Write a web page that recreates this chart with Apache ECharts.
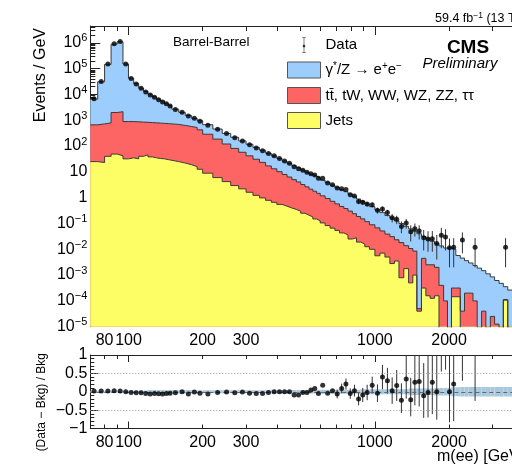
<!DOCTYPE html>
<html><head><meta charset="utf-8">
<script src="https://cdn.jsdelivr.net/npm/echarts@6/dist/echarts.min.js"></script>
<style>html,body{margin:0;padding:0;background:#fff}#c{width:512px;height:468px}</style>
</head><body><div id="c"></div>
<script>
// ---- bin edges (GeV) ----
const binEdges = [70,75,80,85,90,95,100,105,110,115,120,125,130,135,140,145,150,160,170,180,190,200,
 220,240,260,280,300,320,340,360,380,400,420,440,460,480,500,520,540,560,580,600,
 628,658,688,718,748,778,810,842,875,910,950,1000,1048,1098,1150,1200,1252,1310,1370,1425,1480,
 1545,1610,1675,1745,1820,1900,1970,2045,2130,2220,2310,2400,2500,2600,2710,2820,2940,3060,3190,3320,3460,3600];
// ---- backgrounds, Events / GeV ----
const jetsVals = [25,23,40,49,42,32,35,32,40,46, 38,35,33,32,30,28,25,22,19,16,
 12.6,8.9,6.0,4.2,2.95,2.2,1.62,1.23,0.98,0.79, 0.66,0.55,0.47,0.40,0.35,0.30,0.25,0.21,0.18,0.15,
 0.126,0.105,0.083,0.066,0.054,0.043,0.036,0.025,0.028,0.019, 0.016,0.0126,0.010,0.0056,0.0071,0.0050,0.0028,0.0035,0.00079,0.00178,
 0.0005,0.001,0.00004,0.000316,0.000158,0.000126,0.000158,0,0,0, 0.000145,0.000145,0,0,0,0,0,0,0,0, 0,0,0.000107,0];
const topVals = [640,700,750,1950,2100,860,855,840,810,790, 775,760,743,727,711,696,667,609,556,509,
 414,279,180,116,78.3,55.3,40.1,29.7,22.4,16.2, 12.5,9.65,7.47,5.91,4.66,3.77,2.99,2.42,1.96,1.63,
 1.35,1.07,0.850,0.658,0.521,0.414,0.344,0.277,0.212,0.167, 0.135,0.105,0.0791,0.062,0.0442,0.0339,0.0281,0.0199,0.0174,0.0120,
 0.0102,0.00751,0.00001,0.00415,0.00235,0.00238,0.00184,0.0004,0.0001,0, 0.00017,0.00017,0.00004,0.0002,0.0002,0.0001,0,0.00004,0,0.000025,
 0.0000126,0,0.000005,0];
const dyVals = [5900,30200,147000,889000,1094000,150500,41800,25400,16900,12350, 9420,7330,5830,4740,3830,2990,2000,1410,974,677,
 528,388,271,189,138,101,75.8,58.2,45.8,35.5, 28.5,22.9,18.4,15.1,12.4,10.4,8.51,7.14,5.99,5.14,
 4.41,3.61,2.96,2.37,1.94,1.58,1.32,1.08,0.882,0.705, 0.573,0.458,0.358,0.271,0.212,0.165,0.131,0.103,0.0818,0.0638,
 0.0510,0.0416,0.0398,0.0271,0.0232,0.0179,0.0146,0.0131,0.0111,0.0115, 0.0095,0.00543,0.00453,0.00343,0.00275,0.00224,0.00186,0.00144,0.00112,0.000826,
 0.000604,0.000479,0.000243,0.000263];
// ---- data, Events / GeV ----
const dataVals = [6750,31500,151000,918000,1120000,151000,41800,25500,17300,12500, 9620,7730,6240,5160,4350,3570,2610,2040,1460,1190,
 916,635,448,306,212,157,113,84.7,65.8,51.4, 41.7,33.1,26.3,21.4,15.8,13.2,11.5,9.57,8.53,7.54,
 5.60,5.65,3.73,3.18,2.36,2.22,2.06,1.31,1.16,0.713, 0.659,0.564,0.527,0.325,0.368,0.265,0.167,0.147,0.0769,0.105,
 0.0481,0.0631,0.0509,0.0282,0.0252,0.0257,0.0166,0.035,0.030,0.0115, 0.0119,null,0.0229,null,null,0.012,null,null,null,null,
 null,null,0.012,null];
const dataErrBins = [49,50,51,52,53,54,55,56,57,58,59,60,61,62,63,64,65,66,67,68,69,70,72,75,82];
const dataErrLow  = [0.56,0.52,0.45,0.42,0.24,0.28,0.19,0.11,0.094,0.042,0.063,0.020,0.031,0.024,0.009,0.008,0.008,0.004,0.011,0.009,0.002,0.002,0.007,0.002,0.002];
const dataErrHigh = [0.86,0.80,0.68,0.63,0.41,0.46,0.34,0.23,0.20,0.12,0.15,0.085,0.10,0.085,0.056,0.05,0.051,0.036,0.068,0.06,0.026,0.027,0.045,0.027,0.027];
// ---- ratio (Data - Bkg) / Bkg ----
const ratioVals = [0.02,0.02,0.02,0.03,0.02,0.0,-0.02,-0.03,-0.03,-0.05, -0.06,-0.05,-0.055,-0.06,-0.05,-0.04,-0.03,0.0,-0.06,-0.01,
 -0.04,-0.06,-0.02,-0.01,-0.03,-0.01,-0.04,-0.05,-0.05,-0.02, 0,0,0,0,-0.09,-0.09,-0.02,-0.02,0.05,0.09,
 -0.05,0.18,-0.04,0.03,-0.06,0.09,0.21,-0.05,0.03,-0.2, -0.09,-0.02,0.18,-0.04,0.4,0.3,0.03,0.17,-0.23,0.35,
 -0.22,0.26,0.28,-0.11,-0.02,0.26,0.0,1.6,1.7,0.0, 0.21,null,4.0,null,null,4.1,null,null,null,null, null,null,33,null];
const ratioErrBins = [44,45,46,47,48,49,50,51,52,53,54,55,56,57,58,59,60,61,62,63,64,65,66,67,68,69,70,72,75,82];
const ratioErrLow  = [-0.18,-0.04,0.06,-0.19,-0.13,-0.37,-0.28,-0.23,-0.05,-0.28,0.07,-0.05,-0.33,-0.25,-0.58,-0.19,-0.67,-0.37,-0.40,-0.71,-0.70,-0.61,-0.76,0.55,0.6,-0.83,-0.8,0.3,-0.25,4.7];
const ratioErrHigh = [0.06,0.22,0.36,0.09,0.19,-0.03,0.10,0.19,0.41,0.20,0.73,0.65,0.39,0.59,0.23,1.0,0.38,1.02,1.14,0.78,0.98,1.5,1.17,3.3,3.4,2.3,2.9,9,10,80];
const bandHalf = [0.03,0.03,0.03,0.03,0.03,0.03,0.035,0.035,0.035,0.035,
 0.045,0.045,0.045,0.045,0.045,0.045,0.045,0.045,0.045,0.045, 0.04,0.04,0.04,0.04,0.04,0.04,0.04,0.04,0.04,0.04,
 0.045,0.045,0.045,0.045,0.045,0.045,0.045,0.045,0.045,0.045, 0.055,0.055,0.055,0.055,0.055,0.055,0.055,0.055,0.055,0.055,
 0.07,0.07,0.07,0.07,0.07,0.07,0.07,0.07,0.07,0.07, 0.09,0.09,0.09,0.09,0.09,0.09,0.1,0.1,0.1,0.1,
 0.12,0.12,0.13,0.13,0.13,0.13,0.13,0.13,0.13,0.13,0.13,0.13,0.13,0.13];
// ---- axis ticks / labels ----
const xTickLabels = [80,100,200,300,1000,2000];
const xMinorTicks = [80,90,200,300,400,500,600,700,800,900,2000,3000];
const xMajorTicks = [100,1000];
const yDecades = [1e-5,1e-4,1e-3,1e-2,1e-1,1,10,100,1e3,1e4,1e5,1e6];
const ratioTicks = [-1,-0.5,0,0.5,1];
const ratioMinorTicks = [-0.9,-0.8,-0.7,-0.6,-0.4,-0.3,-0.2,-0.1,0.1,0.2,0.3,0.4,0.6,0.7,0.8,0.9];

const FONT = "'Liberation Sans', Arial, Helvetica, sans-serif";
const BLUE = '#9dcdfd', RED = '#fd6464', YELLOW = '#fdfd66', BAND = '#aac8dd';
const DYNAME = 'γ*/Z → e+e−', TOPNAME = 'tt̄, tW, WW, WZ, ZZ, ττ';
const XMIN = 70, XMAX = 3600, YMIN = 1e-5, YMAX = 4.5e6;
const nb = binEdges.length - 1;

const yMinorTicks = [];
for (let d = -5; d <= 6; d++) for (let k = 2; k <= 9; k++) { const v = k * Math.pow(10, d); if (v <= YMAX) yMinorTicks.push(v); }

const cumRed = jetsVals.map((j, i) => j + topVals[i]);
const cumTot = cumRed.map((r, i) => r + dyVals[i]);
const center = i => (binEdges[i] + binEdges[i + 1]) / 2;
function stepData(vals) {
  const out = [];
  for (let i = 0; i < nb; i++) out.push([binEdges[i], vals[i] > 0 ? vals[i] : 1e-9]);
  out.push([binEdges[nb], vals[nb - 1] > 0 ? vals[nb - 1] : 1e-9]);
  return out;
}
const dataPts = []; dataVals.forEach((v, i) => { if (v != null) dataPts.push([center(i), v]); });
const ratioPts = []; ratioVals.forEach((v, i) => { if (v != null) ratioPts.push([center(i), v]); });
const dataErr = dataErrBins.map((b, k) => [center(b), dataErrLow[k], dataErrHigh[k]]);
const ratioErr = ratioErrBins.map((b, k) => [center(b), ratioErrLow[k], ratioErrHigh[k]]);
const bandData = bandHalf.map((w, i) => [binEdges[i], binEdges[i + 1], -w, w]);

const AX = '#222';
function xAx(grid, pos, ticks, len, labels, line) {
  return {
    type: 'log', logBase: 10, gridIndex: grid, position: pos, min: XMIN, max: XMAX,
    axisLine: { show: line, onZero: false, lineStyle: { color: AX, width: 1 } },
    axisTick: { show: true, inside: true, length: len, customValues: ticks, lineStyle: { color: AX, width: 1 } },
    axisLabel: labels ? { show: true, customValues: labels, margin: 6, fontSize: 16, fontFamily: FONT, color: '#000', formatter: v => String(Math.round(v)) } : { show: false },
    splitLine: { show: false }, minorTick: { show: false }
  };
}
const supRich = { b: { fontSize: 16, fontFamily: FONT, color: '#000', lineHeight: 16 }, s: { fontSize: 11, fontFamily: FONT, color: '#000', padding: [0, 0, 9, 0], lineHeight: 16 } };
function yLab(v) {
  const e = Math.round(Math.log10(v));
  if (e === 0) return '{b|1}';
  if (e === 1) return '{b|10}';
  return '{b|10}{s|' + (e < 0 ? '−' + (-e) : e) + '}';
}
function vline(params, api) {
  const p1 = api.coord([api.value(0), api.value(1)]);
  const p2 = api.coord([api.value(0), api.value(2)]);
  return { type: 'line', shape: { x1: p1[0], y1: p1[1], x2: p2[0], y2: p2[1] }, style: { stroke: '#333', lineWidth: 1 } };
}

const G0 = { left: 90.3, top: 26, width: 424.4, height: 300.7 };
const G1 = { left: 90.3, top: 355, width: 424.4, height: 73.5 };

const chart = echarts.init(document.getElementById('c'), null, { renderer: 'canvas' });
chart.setOption({
  animation: false,
  backgroundColor: '#fff',
  grid: [G0, G1],
  xAxis: [
    xAx(0, 'bottom', xMinorTicks, 5, xTickLabels, true),
    xAx(0, 'bottom', xMajorTicks, 9, null, false),
    xAx(0, 'top', xMinorTicks, 5, null, true),
    xAx(0, 'top', xMajorTicks, 9, null, false),
    xAx(1, 'bottom', xMinorTicks, 4, xTickLabels, true),
    xAx(1, 'bottom', xMajorTicks, 7, null, false),
    xAx(1, 'top', xMinorTicks, 4, null, true),
    xAx(1, 'top', xMajorTicks, 7, null, false)
  ],
  yAxis: [
    { type: 'log', logBase: 10, gridIndex: 0, position: 'left', min: YMIN, max: YMAX,
      axisLine: { show: true, onZero: false, lineStyle: { color: AX, width: 1 } },
      axisTick: { show: true, inside: true, length: 5, customValues: yMinorTicks, lineStyle: { color: AX } },
      axisLabel: { show: true, customValues: yDecades, margin: 3, formatter: yLab, rich: supRich, lineHeight: 16 },
      splitLine: { show: false } },
    { type: 'log', logBase: 10, gridIndex: 0, position: 'left', min: YMIN, max: YMAX,
      axisLine: { show: false, onZero: false },
      axisTick: { show: true, inside: true, length: 10, customValues: yDecades, lineStyle: { color: AX } },
      axisLabel: { show: false }, splitLine: { show: false } },
    { type: 'value', gridIndex: 1, position: 'left', min: -1, max: 1,
      axisLine: { show: true, onZero: false, lineStyle: { color: AX, width: 1 } },
      axisTick: { show: true, inside: true, length: 8, customValues: ratioTicks, lineStyle: { color: AX } },
      axisLabel: { show: true, customValues: ratioTicks, margin: 3, fontSize: 16, fontFamily: FONT, color: '#000',
        formatter: v => (v < 0 ? '−' : '') + Math.abs(v) },
      splitLine: { show: false } },
    { type: 'value', gridIndex: 1, position: 'left', min: -1, max: 1,
      axisLine: { show: false, onZero: false },
      axisTick: { show: true, inside: true, length: 4, customValues: ratioMinorTicks, lineStyle: { color: AX } },
      axisLabel: { show: false }, splitLine: { show: false } }
  ],
  legend: {
    left: 287, top: 37, padding: 0, orient: 'vertical', itemWidth: 33, itemHeight: 16, itemGap: 8,
    selectedMode: false,
    textStyle: { fontSize: 15, fontFamily: FONT, color: '#000', lineHeight: 16,
      rich: { t: { fontSize: 15, fontFamily: FONT, color: '#000', lineHeight: 16 },
              s: { fontSize: 10, fontFamily: FONT, color: '#000', lineHeight: 16, padding: [0, 0, 8, 0] } } },
    formatter: n => n === DYNAME ? '{t|γ}{s|*}{t|/Z → e}{s|+}{t|e}{s|−}' : '{t|' + n + '}',
    data: [
      { name: 'Data', icon: 'path://M2,0L6,0L6,0.6L4.3,0.6L4.3,7.4A1.8,1.8 0 0 1 4.3,10.6L4.3,15.4L6,15.4L6,16L2,16L2,15.4L3.7,15.4L3.7,10.6A1.8,1.8 0 0 1 3.7,7.4L3.7,0.6L2,0.6Z',
        itemStyle: { color: '#000', borderWidth: 0 } },
      { name: DYNAME, icon: 'rect', itemStyle: { color: BLUE, borderColor: '#555', borderWidth: 1 } },
      { name: TOPNAME, icon: 'rect', itemStyle: { color: RED, borderColor: '#555', borderWidth: 1 } },
      { name: 'Jets', icon: 'rect', itemStyle: { color: YELLOW, borderColor: '#555', borderWidth: 1 } }
    ]
  },
  graphic: [
    { type: 'text', x: 41, y: 28, rotation: Math.PI / 2, style: { text: 'Events / GeV', fontSize: 16, fontFamily: FONT, fill: '#000', align: 'right', verticalAlign: 'middle' } },
    { type: 'text', x: 42, y: 353, rotation: Math.PI / 2, style: { text: '(Data − Bkg) / Bkg', fontSize: 12, fontFamily: FONT, fill: '#000', align: 'right', verticalAlign: 'middle' } },
    { type: 'text', x: 173, y: 42, style: { text: 'Barrel-Barrel', fontSize: 13.5, fontFamily: FONT, fill: '#000', align: 'left', verticalAlign: 'middle' } },
    { type: 'text', x: 435, y: 19, style: { text: '{a|59.4 fb}{s|−1}{a| (13 TeV)}', align: 'left', verticalAlign: 'middle',
        rich: { a: { fontSize: 12.5, fontFamily: FONT, fill: '#000', lineHeight: 14 }, s: { fontSize: 8.5, fontFamily: FONT, fill: '#000', lineHeight: 14, padding: [0, 0, 6, 0] } } } },
    { type: 'text', x: 468, y: 48, style: { text: 'CMS', fontSize: 19, fontWeight: 'bold', fontFamily: FONT, fill: '#000', align: 'center', verticalAlign: 'middle' } },
    { type: 'text', x: 460, y: 64, style: { text: 'Preliminary', fontSize: 15, fontStyle: 'italic', fontFamily: FONT, fill: '#000', align: 'center', verticalAlign: 'middle' } },
    { type: 'text', x: 437, y: 457, style: { text: 'm(ee) [GeV]', fontSize: 16, fontFamily: FONT, fill: '#000', align: 'left', verticalAlign: 'middle' } }
  ],
  series: [
    { name: DYNAME, type: 'line', xAxisIndex: 0, yAxisIndex: 0, step: 'end', data: stepData(cumTot), symbol: 'none', showSymbol: false,
      color: BLUE, lineStyle: { color: '#3a3a3a', width: 1 }, areaStyle: { color: BLUE, opacity: 1, origin: 'start' }, clip: true, z: 2 },
    { name: TOPNAME, type: 'line', xAxisIndex: 0, yAxisIndex: 0, step: 'end', data: stepData(cumRed), symbol: 'none', showSymbol: false,
      color: RED, lineStyle: { color: '#3a3a3a', width: 1 }, areaStyle: { color: RED, opacity: 1, origin: 'start' }, clip: true, z: 2 },
    { name: 'Jets', type: 'line', xAxisIndex: 0, yAxisIndex: 0, step: 'end', data: stepData(jetsVals), symbol: 'none', showSymbol: false,
      color: YELLOW, lineStyle: { color: '#3a3a3a', width: 1 }, areaStyle: { color: YELLOW, opacity: 1, origin: 'start' }, clip: true, z: 2 },
    { name: 'DataErr', type: 'custom', xAxisIndex: 0, yAxisIndex: 0, clip: true, data: dataErr, encode: { x: 0, y: [1, 2] }, renderItem: vline, z: 4 },
    { name: 'Data', type: 'scatter', xAxisIndex: 0, yAxisIndex: 0, data: dataPts, symbol: 'circle', symbolSize: 5, itemStyle: { color: '#000' }, z: 5 },
    { name: 'Band', type: 'custom', xAxisIndex: 4, yAxisIndex: 2, clip: true, data: bandData, encode: { x: [0, 1], y: [2, 3] }, z: 2,
      renderItem: (params, api) => {
        const p1 = api.coord([api.value(0), api.value(3)]);
        const p2 = api.coord([api.value(1), api.value(2)]);
        return { type: 'rect', shape: { x: p1[0], y: p1[1], width: p2[0] - p1[0], height: p2[1] - p1[1] }, style: { fill: BAND } };
      } },
    { name: 'RatioErr', type: 'custom', xAxisIndex: 4, yAxisIndex: 2, clip: true, data: ratioErr, encode: { x: 0, y: [1, 2] }, renderItem: vline, z: 4 },
    { name: 'Ratio', type: 'scatter', xAxisIndex: 4, yAxisIndex: 2, data: ratioPts, symbol: 'circle', symbolSize: 5, itemStyle: { color: '#000' }, z: 5, clip: true,
      markLine: { silent: true, symbol: 'none', label: { show: false }, animation: false,
        data: [
          { yAxis: 0.5, lineStyle: { color: '#999', width: 1, type: [1, 2] } },
          { yAxis: -0.5, lineStyle: { color: '#999', width: 1, type: [1, 2] } },
          { yAxis: 0, lineStyle: { color: '#666', width: 1, type: [4, 3] } }
        ] } }
  ]
});
</script>
</body></html>
